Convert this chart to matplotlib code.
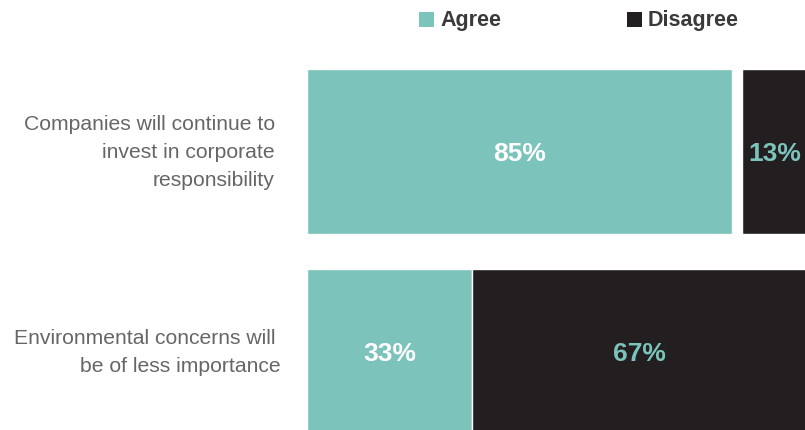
import matplotlib.pyplot as plt
from matplotlib.patches import Rectangle

# survey results, percent of respondents
statements = ["Companies will continue to\ninvest in corporate\nresponsibility",
              "Environmental concerns will \nbe of less importance"]
agree = [85, 33]
disagree = [13, 67]

AGREE_COLOR = "#7cc4bb"
DISAGREE_COLOR = "#231f20"
TEXT_GRAY = "#666666"

plt.rcParams['font.family'] = ['Liberation Sans', 'DejaVu Sans']


def main():
    W, H = 805, 430
    fig = plt.figure(figsize=(W / 100, H / 100), dpi=100)

    # 5 px per percent, starting at x=307; bar rows 200 px apart
    ax = fig.add_axes([307 / W, 0, 500 / W, 1])
    ax.set_xlim(0, 100)
    ax.set_ylim((H - 151.5) / 200, -151.5 / 200)
    ax.axis("off")

    ys = list(range(len(statements)))
    ax.barh(ys, agree, height=0.825, color=AGREE_COLOR,
            edgecolor="white", linewidth=1)
    ax.barh(ys, disagree, left=[100 - d for d in disagree], height=0.825,
            color=DISAGREE_COLOR, edgecolor="white", linewidth=1)

    for y, a, d in zip(ys, agree, disagree):
        ax.text(a / 2, y, "%d%%" % a, ha="center", va="center_baseline",
                color="white", fontsize=19, fontweight="bold")
        ax.text(100 - d / 2, y, "%d%%" % d, ha="center", va="center_baseline",
                color=AGREE_COLOR, fontsize=19, fontweight="bold")

    # statement labels to the left of the bars
    label_right = [275, 281]
    for y, s, xr in zip(ys, statements, label_right):
        fig.text(xr / W, 1 - (153 + 200 * y) / H, s, ha="right", va="center",
                 color=TEXT_GRAY, fontsize=15.2, linespacing=1.6)

    # legend across the top
    for x0, label, color in [(419, "Agree", AGREE_COLOR), (627, "Disagree", DISAGREE_COLOR)]:
        fig.add_artist(Rectangle((x0 / W, 1 - 27 / H), 15 / W, 15 / H,
                                 transform=fig.transFigure, color=color, lw=0))
        fig.text((x0 + 21) / W, 1 - 20.5 / H, label, ha="left", va="center",
                 color="#3a3a3a", fontsize=15.5, fontweight="bold")

    fig.savefig("out.png", dpi=100)


if __name__ == "__main__":
    main()
